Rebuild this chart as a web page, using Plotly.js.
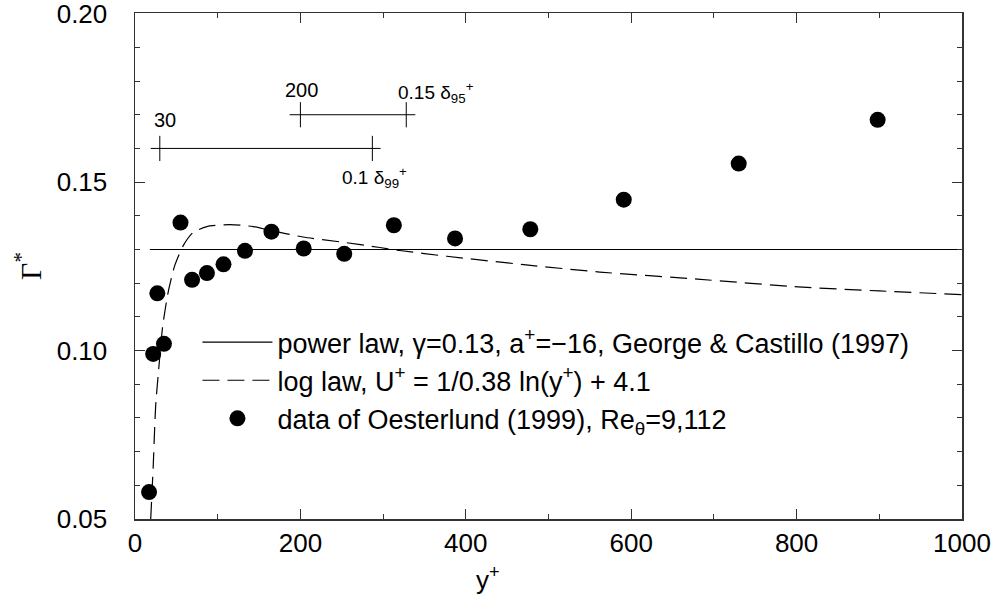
<!DOCTYPE html>
<html>
<head>
<meta charset="utf-8">
<script src="https://cdn.plot.ly/plotly-3.0.1.min.js"></script>
<style>html,body{margin:0;padding:0;background:#fff;}#chart{width:997px;height:598px;}</style>
</head>
<body>
<div id="chart"></div>
<script>
// Power law (horizontal line)
var powerX = [18, 1000];
var powerY = [0.13, 0.13];

// Log law curve
var logX = [19, 22, 25, 29, 33.5, 40, 48, 58, 70, 87, 115, 143, 163, 203, 250, 296, 320, 377, 470, 562, 680, 802, 900, 1000];
var logY = [0.05, 0.0655, 0.0836, 0.0954, 0.1073, 0.1172, 0.1252, 0.131, 0.135, 0.1368, 0.1374, 0.1368, 0.1357, 0.1337, 0.1322, 0.1306, 0.1297, 0.128, 0.1255, 0.1233, 0.1212, 0.1189, 0.1177, 0.1166];

// Oesterlund data
var dataX = [17, 22, 27, 35, 55, 69, 87, 107, 133, 165, 204, 253, 313, 387, 478, 591, 730, 898];
var dataY = [0.058, 0.099, 0.117, 0.102, 0.138, 0.121, 0.123, 0.1256, 0.1296, 0.1353, 0.1303, 0.1287, 0.1372, 0.1333, 0.136, 0.1448, 0.1555, 0.1685];

// range bars
var bar1X = [19, 297], bar1Y = [0.16, 0.16], tick1X = [30, 287];
var bar2X = [187, 339], bar2Y = [0.17, 0.17], tick2X = [200, 328];

// tick labels
var xTicks = [0, 200, 400, 600, 800, 1000];
var xTickText = ['0', '200', '400', '600', '800', '1000'];
var yTicks = [0.05, 0.10, 0.15, 0.20];
var yTickText = ['0.05', '0.10', '0.15', '0.20'];

var names = [
  'power law, \u03b3=0.13, a<sup>+</sup>=\u221216, George & Castillo (1997)',
  'log law, U<sup>+</sup> = 1/0.38 ln(y<sup>+</sup>) + 4.1',
  'data of Oesterlund (1999), Re<sub>\u03b8</sub>=9,112'
];

var FONT = 'Liberation Sans, Arial, Helvetica, sans-serif';

var traces = [
  {x: powerX, y: powerY, mode: 'lines', name: names[0], line: {color: '#000', width: 1.2}},
  {x: logX, y: logY, mode: 'lines', name: names[1], line: {color: '#000', width: 1.2, dash: '17px,8px', shape: 'spline', smoothing: 0.6}},
  {x: dataX, y: dataY, mode: 'markers', name: names[2], marker: {color: '#000', size: 16, symbol: 'circle'}},
  {x: bar1X, y: bar1Y, mode: 'lines', showlegend: false, line: {color: '#000', width: 1}, hoverinfo: 'skip'},
  {x: tick1X, y: [bar1Y[0], bar1Y[0]], mode: 'markers', showlegend: false, marker: {symbol: 'line-ns-open', size: 18, color: '#000', line: {color: '#000', width: 1}}, hoverinfo: 'skip'},
  {x: bar2X, y: bar2Y, mode: 'lines', showlegend: false, line: {color: '#000', width: 1}, hoverinfo: 'skip'},
  {x: tick2X, y: [bar2Y[0], bar2Y[0]], mode: 'markers', showlegend: false, marker: {symbol: 'line-ns-open', size: 18, color: '#000', line: {color: '#000', width: 1}}, hoverinfo: 'skip'}
];

var axisCommon = {
  showline: true, linecolor: '#333', linewidth: 1.5, mirror: 'ticks',
  ticks: 'inside', ticklen: 10, tickwidth: 1, tickcolor: '#333',
  showgrid: false, zeroline: false, ticklabeloverflow: 'allow',
  tickfont: {family: FONT, size: 26, color: '#000'},
  minor: {ticks: 'inside', ticklen: 5, tickwidth: 1, tickcolor: '#333', showgrid: false}
};

var layout = {
  width: 997, height: 598,
  margin: {l: 135, r: 35, t: 13, b: 79},
  paper_bgcolor: '#fff', plot_bgcolor: '#fff',
  font: {family: FONT, color: '#000'},
  showlegend: true,
  legend: {x: 0.0755, y: 0.397, xanchor: 'left', yanchor: 'top', bgcolor: 'rgba(0,0,0,0)',
           font: {family: FONT, size: 27, color: '#000'}, itemwidth: 70, tracegroupgap: 0},
  xaxis: Object.assign({}, axisCommon, {
    range: [0, 1000], tickvals: xTicks, ticktext: xTickText,
    minor: Object.assign({}, axisCommon.minor, {dtick: 100, tick0: 0})
  }),
  yaxis: Object.assign({}, axisCommon, {
    range: [0.05, 0.2002], tickvals: yTicks, ticktext: yTickText, ticklabelstandoff: 21,
    minor: Object.assign({}, axisCommon.minor, {dtick: 0.01, tick0: 0.05}),
    title: {text: '\u0393<sup>*</sup>', font: {family: 'Liberation Serif, Times New Roman, serif', size: 30}, standoff: 6}
  }),
  annotations: [
    {x: 0.427, y: -0.117, xref: 'paper', yref: 'paper', text: 'y<sup>+</sup>', showarrow: false, xanchor: 'center', yanchor: 'middle', font: {family: FONT, size: 26}},
    {x: 21, y: 0.1683, xref: 'x', yref: 'y', text: '30', showarrow: false, xanchor: 'left', yanchor: 'middle', font: {family: FONT, size: 20}},
    {x: 179, y: 0.1772, xref: 'x', yref: 'y', text: '200', showarrow: false, xanchor: 'left', yanchor: 'middle', font: {family: FONT, size: 20}},
    {x: 316, y: 0.1767, xref: 'x', yref: 'y', text: '0.15 \u03b4<sub>95</sub><sup>+</sup>', showarrow: false, xanchor: 'left', yanchor: 'middle', font: {family: FONT, size: 19}},
    {x: 248, y: 0.1515, xref: 'x', yref: 'y', text: '0.1 \u03b4<sub>99</sub><sup>+</sup>', showarrow: false, xanchor: 'left', yanchor: 'middle', font: {family: FONT, size: 19}}
  ]
};

Plotly.newPlot('chart', traces, layout, {staticPlot: true});
</script>
</body>
</html>
